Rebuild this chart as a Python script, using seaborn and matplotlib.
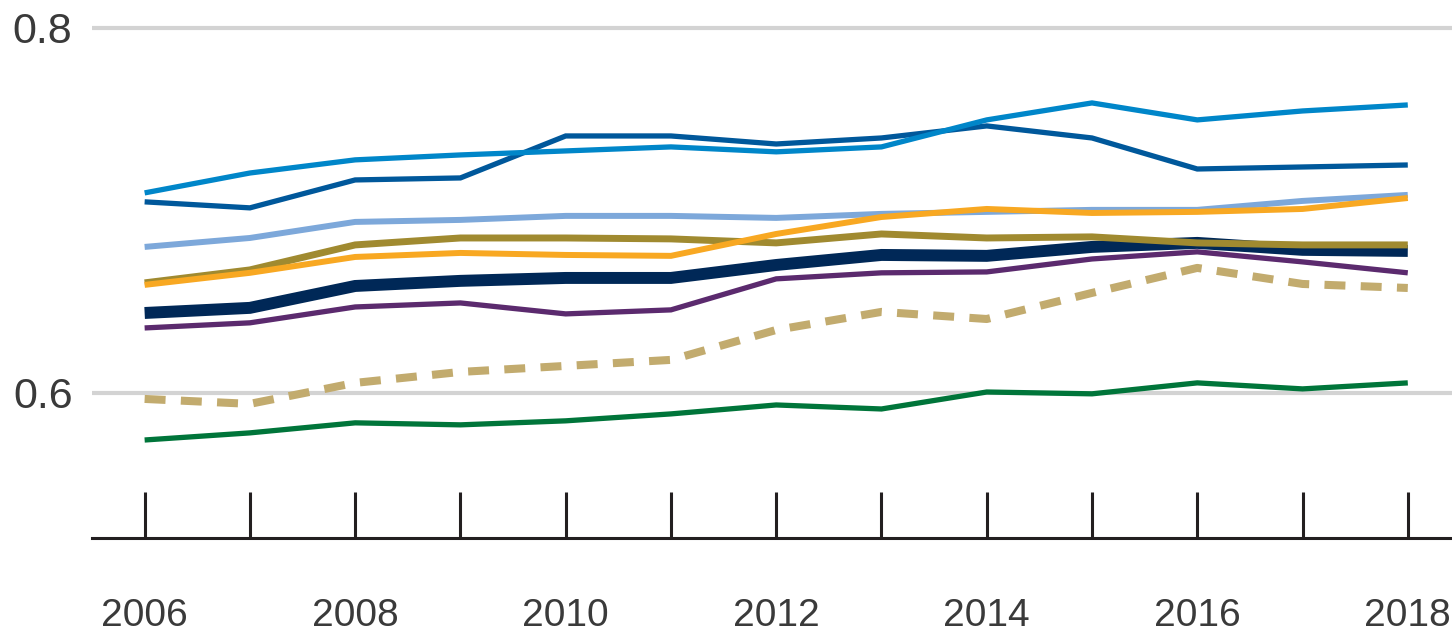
import matplotlib
matplotlib.use("Agg")
import matplotlib.pyplot as plt
import pandas as pd
import seaborn as sns

years = list(range(2006, 2019))

light_blue = [0.7096, 0.7205, 0.7277, 0.7304, 0.7326, 0.7348, 0.7321, 0.7348, 0.7496, 0.7589, 0.7496, 0.7545, 0.7578]
dark_blue = [0.7047, 0.7014, 0.7167, 0.7178, 0.7408, 0.7408, 0.7364, 0.7397, 0.7463, 0.7397, 0.7227, 0.7238, 0.7249]
pale_blue = [0.6800, 0.6849, 0.6937, 0.6948, 0.6970, 0.6970, 0.6959, 0.6981, 0.6992, 0.7003, 0.7003, 0.7052, 0.7085]
orange = [0.6592, 0.6658, 0.6745, 0.6767, 0.6756, 0.6751, 0.6871, 0.6964, 0.7008, 0.6986, 0.6992, 0.7008, 0.7068]
olive = [0.6603, 0.6674, 0.6811, 0.6849, 0.6849, 0.6844, 0.6822, 0.6871, 0.6849, 0.6855, 0.6822, 0.6811, 0.6811]
navy = [0.6438, 0.6466, 0.6586, 0.6614, 0.6630, 0.6630, 0.6701, 0.6756, 0.6751, 0.6800, 0.6822, 0.6784, 0.6778]
purple = [0.6356, 0.6384, 0.6471, 0.6493, 0.6433, 0.6455, 0.6625, 0.6658, 0.6663, 0.6734, 0.6773, 0.6718, 0.6658]
tan_dashed = [0.5967, 0.5940, 0.6055, 0.6115, 0.6148, 0.6181, 0.6345, 0.6444, 0.6405, 0.6548, 0.6685, 0.6597, 0.6575]
green = [0.5742, 0.5781, 0.5836, 0.5825, 0.5847, 0.5885, 0.5934, 0.5912, 0.6005, 0.5995, 0.6055, 0.6022, 0.6055]

year_labels = ["2006", "", "2008", "", "2010", "", "2012", "", "2014", "", "2016", "", "2018"]
y_ticks = [0.6, 0.8]
y_labels = ["0.6", "0.8"]

# drawing order, colour, width (pt), dashed?
series = [
    ("navy", navy, "#002857", 8.6, False),
    ("tan", tan_dashed, "#C2AB6E", 5.8, True),
    ("green", green, "#00753A", 3.8, False),
    ("dark_blue", dark_blue, "#00589B", 3.8, False),
    ("light_blue", light_blue, "#0086C9", 3.8, False),
    ("pale_blue", pale_blue, "#7DA8DA", 4.3, False),
    ("olive", olive, "#A08A30", 5.0, False),
    ("orange", orange, "#F8A822", 4.3, False),
    ("purple", purple, "#5B2A6E", 3.8, False),
]

sns.set_style("white")
plt.rcParams['font.family'] = ['Liberation Sans', 'DejaVu Sans']

fig = plt.figure(figsize=(14.52, 6.34), dpi=100)
ax = fig.add_axes([92 / 1452, 96 / 634, 1 - 92 / 1452, 1 - 96 / 634])

for name, vals, color, lw, dashed in series:
    df = pd.DataFrame({"year": years, "value": vals})
    sns.lineplot(data=df, x="year", y="value", color=color, linewidth=lw, ax=ax)
    line = ax.lines[-1]
    line.set_solid_capstyle("butt")
    line.set_solid_joinstyle("miter")
    if dashed:
        line.set_dashes((2.6, 1.9))
        line.set_dash_capstyle("butt")

ax.set_xlim(2005.5, 2018.42)
ax.set_ylim(0.5205, 0.8153)

ax.set_yticks(y_ticks)
ax.set_yticklabels(y_labels)
ax.yaxis.grid(True, color="#d3d3d3", linewidth=3)
ax.set_axisbelow(True)
ax.tick_params(axis="y", left=False, length=0, pad=14, labelsize=31, labelcolor="#3a3a3a")

ax.set_xticks(years)
ax.set_xticklabels(year_labels)
ax.tick_params(axis="x", bottom=True, direction="in", length=33, width=2.2, color="#231f20",
               pad=43, labelsize=28, labelcolor="#3a3a3a")

for s in ["top", "right", "left"]:
    ax.spines[s].set_visible(False)
ax.spines["bottom"].set_color("#231f20")
ax.spines["bottom"].set_linewidth(2.2)

ax.set_xlabel("")
ax.set_ylabel("")

fig.savefig("out.png", dpi=100)
